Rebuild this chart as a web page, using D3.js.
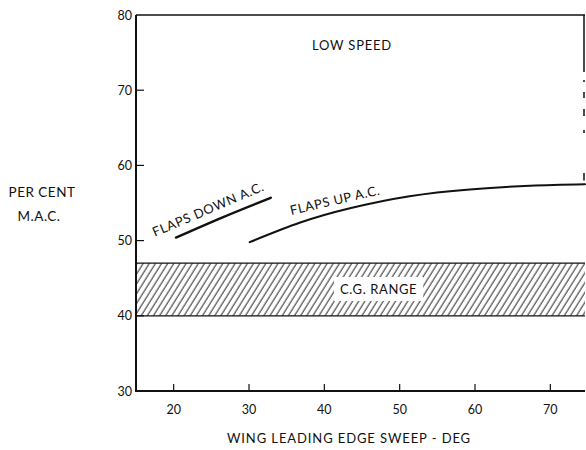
<!DOCTYPE html>
<html>
<head>
<meta charset="utf-8">
<script src="https://cdn.jsdelivr.net/npm/d3@7/dist/d3.min.js"></script>
<style>
  html, body { margin: 0; padding: 0; background: #fff; }
  svg { display: block; }
  text { font-family: Lato, "Open Sans", sans-serif; fill: #111; }
</style>
</head>
<body>
<script>
// Aerodynamic centre vs. wing sweep, low speed
const xTicks = [20, 30, 40, 50, 60, 70];
const yTicks = [30, 40, 50, 60, 70, 80];
const xDomain = [15, 74.6];
const yDomain = [30, 80];

// Aerodynamic centre, flaps down (sweep deg, % MAC)
const flapsDownSweep = [20.3, 26.5, 32.9];
const flapsDownMAC   = [50.4, 53.1, 55.7];

// Aerodynamic centre, flaps up (sweep deg, % MAC)
const flapsUpSweep = [30.1, 36.8, 43.4, 51.3, 59.3, 67.3, 74.6];
const flapsUpMAC   = [49.8, 52.4, 54.3, 55.9, 56.8, 57.3, 57.5];

// Centre of gravity range (% MAC)
const cgRange = [40, 47];

const W = 586, H = 450;
const svg = d3.select("body").append("svg").attr("width", W).attr("height", H);

const x = d3.scaleLinear().domain(xDomain).range([136, 585]);
const y = d3.scaleLinear().domain(yDomain).range([391, 15]);

// hatch pattern for the c.g. band
const defs = svg.append("defs");
const pat = defs.append("pattern")
  .attr("id", "hatch")
  .attr("patternUnits", "userSpaceOnUse")
  .attr("width", 5.2).attr("height", 10)
  .attr("patternTransform", "rotate(32)");
pat.append("line")
  .attr("x1", 1).attr("y1", 0).attr("x2", 1).attr("y2", 10)
  .attr("stroke", "#111").attr("stroke-width", 0.9);

// c.g. band
svg.append("rect")
  .attr("x", x(xDomain[0])).attr("width", x(xDomain[1]) - x(xDomain[0]))
  .attr("y", y(cgRange[1])).attr("height", y(cgRange[0]) - y(cgRange[1]))
  .attr("fill", "url(#hatch)");
svg.selectAll("line.cgedge").data(cgRange).join("line")
  .attr("class", "cgedge")
  .attr("x1", x(xDomain[0])).attr("x2", x(xDomain[1]))
  .attr("y1", d => y(d)).attr("y2", d => y(d))
  .attr("stroke", "#111").attr("stroke-width", 1.3);

// band label with a cleared box behind it
const cgG = svg.append("g");
const cgLabel = cgG.append("text")
  .attr("x", x(47.2)).attr("y", y((cgRange[0] + cgRange[1]) / 2) + 4.5)
  .attr("text-anchor", "middle")
  .attr("font-size", 13).attr("letter-spacing", 0.6)
  .text("C.G. RANGE");
const bb = cgLabel.node().getBBox();
cgG.insert("rect", "text")
  .attr("x", bb.x - 6).attr("y", bb.y - 4)
  .attr("width", bb.width + 12).attr("height", bb.height + 8)
  .attr("fill", "#fff");

// frame
const frame = svg.append("g").attr("stroke", "#111").attr("fill", "none");
frame.append("line").attr("x1", x(xDomain[0])).attr("x2", x(xDomain[0]))
  .attr("y1", y(yDomain[0]) + 1).attr("y2", y(yDomain[1])).attr("stroke-width", 2);
frame.append("line").attr("x1", x(xDomain[0]) - 1).attr("x2", x(xDomain[1]))
  .attr("y1", y(yDomain[0])).attr("y2", y(yDomain[0])).attr("stroke-width", 2);
frame.append("line").attr("x1", x(xDomain[0])).attr("x2", x(xDomain[1]))
  .attr("y1", y(yDomain[1])).attr("y2", y(yDomain[1])).attr("stroke-width", 1.5);
frame.append("line").attr("x1", x(xDomain[1]) - 1).attr("x2", x(xDomain[1]) - 1)
  .attr("y1", y(yDomain[1])).attr("y2", y(58))
  .attr("stroke-width", 1.5)
  .attr("stroke-dasharray", "57,8,2,10,6,11,7,14,3,40");

// y ticks (inside) and labels
svg.selectAll("line.ytick").data(yTicks.slice(1, -1)).join("line")
  .attr("class", "ytick")
  .attr("x1", x(xDomain[0])).attr("x2", x(xDomain[0]) + 8)
  .attr("y1", d => y(d)).attr("y2", d => y(d))
  .attr("stroke", "#111").attr("stroke-width", 1.2);
svg.selectAll("text.ylab").data(yTicks).join("text")
  .attr("class", "ylab")
  .attr("x", x(xDomain[0]) - 4).attr("y", d => y(d) + 4.5)
  .attr("text-anchor", "end").attr("font-size", 12.5)
  .text(d => d);

// x ticks (inside) and labels
svg.selectAll("line.xtick").data(xTicks).join("line")
  .attr("class", "xtick")
  .attr("x1", d => x(d)).attr("x2", d => x(d))
  .attr("y1", y(yDomain[0])).attr("y2", y(yDomain[0]) - 7)
  .attr("stroke", "#111").attr("stroke-width", 1.2);
svg.selectAll("text.xlab").data(xTicks).join("text")
  .attr("class", "xlab")
  .attr("x", d => x(d)).attr("y", 414)
  .attr("text-anchor", "middle").attr("font-size", 12.5)
  .text(d => d);

// axis titles
svg.append("text").attr("x", 349).attr("y", 443)
  .attr("text-anchor", "middle").attr("font-size", 13).attr("letter-spacing", 0.9)
  .text("WING LEADING EDGE SWEEP - DEG");
svg.append("text").attr("x", 42).attr("y", 197)
  .attr("text-anchor", "middle").attr("font-size", 13.5).attr("letter-spacing", 0.5)
  .text("PER CENT");
svg.append("text").attr("x", 39).attr("y", 221)
  .attr("text-anchor", "middle").attr("font-size", 13.5).attr("letter-spacing", 0.5)
  .text("M.A.C.");

// chart title
svg.append("text").attr("x", 352).attr("y", 50)
  .attr("text-anchor", "middle").attr("font-size", 13).attr("letter-spacing", 0.8)
  .text("LOW SPEED");

// a.c. curves
const line = d3.line().x(d => x(d[0])).y(d => y(d[1])).curve(d3.curveNatural);
svg.append("path")
  .datum(d3.zip(flapsDownSweep, flapsDownMAC))
  .attr("d", line).attr("fill", "none")
  .attr("stroke", "#111").attr("stroke-width", 2.4).attr("stroke-linecap", "round");
svg.append("path")
  .datum(d3.zip(flapsUpSweep, flapsUpMAC))
  .attr("d", line).attr("fill", "none")
  .attr("stroke", "#111").attr("stroke-width", 2.1).attr("stroke-linecap", "round");

// curve labels
svg.append("text")
  .attr("transform", `translate(${x(17.5)},${y(50.5)}) rotate(-23)`)
  .attr("font-size", 13).attr("letter-spacing", 0.6)
  .text("FLAPS DOWN A.C.");
svg.append("text")
  .attr("transform", `translate(${x(35.6)},${y(53.4)}) rotate(-13)`)
  .attr("font-size", 13).attr("letter-spacing", 0.6)
  .text("FLAPS UP A.C.");
</script>
</body>
</html>
